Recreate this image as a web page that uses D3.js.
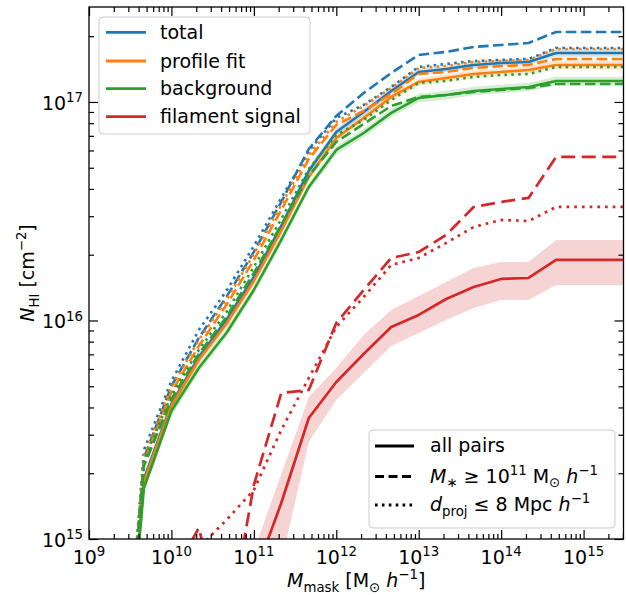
<!DOCTYPE html>
<html><head><meta charset="utf-8">
<script src="https://cdn.jsdelivr.net/npm/d3@7"></script>
<style>
body{margin:0;background:#fff;}
svg{display:block;font-family:"DejaVu Sans",sans-serif;}
</style></head><body>
<svg id="chart" width="626" height="595"></svg>
<script>
// ---------------- data ----------------
const masses = [2.15e9, 4.64e9, 1e10, 2.15e10, 4.64e10, 1e11, 2.15e11, 4.64e11, 1e12, 2.15e12, 4.64e12, 1e13, 2.15e13, 4.64e13, 1e14, 2.15e14, 4.64e14, 1e15, 2.15e15, 4.64e15];

const totalAll    = [6.39e13, 1.882e15, 4.148e15, 6.808e15, 1.005e16, 1.582e16, 2.707e16, 4.834e16, 7.29e16, 9.00e16, 1.123e17, 1.372e17, 1.416e17, 1.477e17, 1.508e17, 1.524e17, 1.676e17, 1.676e17, 1.676e17, 1.676e17];
const totalMstar  = [6.39e13, 2.348e15, 5.014e15, 8.317e15, 1.281e16, 2.058e16, 3.486e16, 6.094e16, 8.63e16, 1.099e17, 1.357e17, 1.641e17, 1.694e17, 1.785e17, 1.824e17, 1.862e17, 2.091e17, 2.091e17, 2.091e17, 2.091e17];
const totalDproj  = [6.39e13, 2.555e15, 5.285e15, 9.05e15, 1.365e16, 2.193e16, 3.637e16, 5.967e16, 8.45e16, 9.69e16, 1.171e17, 1.446e17, 1.492e17, 1.540e17, 1.557e17, 1.573e17, 1.767e17, 1.767e17, 1.767e17, 1.767e17];
const totalErr    = [0.05, 0.05, 0.045, 0.04, 0.04, 0.04, 0.04, 0.04, 0.04, 0.04, 0.035, 0.035, 0.035, 0.035, 0.035, 0.035, 0.04, 0.04, 0.04, 0.04];

const profileAll   = [6.39e13, 1.824e15, 4.061e15, 6.596e15, 9.638e15, 1.516e16, 2.568e16, 4.538e16, 6.844e16, 8.45e16, 1.054e17, 1.235e17, 1.288e17, 1.343e17, 1.372e17, 1.401e17, 1.477e17, 1.477e17, 1.477e17, 1.477e17];
const profileMstar = [6.39e13, 2.251e15, 4.708e15, 7.643e15, 1.177e16, 1.892e16, 3.204e16, 5.484e16, 7.85e16, 9.10e16, 1.088e17, 1.343e17, 1.372e17, 1.431e17, 1.461e17, 1.477e17, 1.573e17, 1.573e17, 1.573e17, 1.573e17];
const profileDproj = [6.39e13, 2.399e15, 4.962e15, 8.145e15, 1.241e16, 2.016e16, 3.378e16, 5.722e16, 8.10e16, 9.59e16, 1.159e17, 1.431e17, 1.461e17, 1.524e17, 1.541e17, 1.557e17, 1.748e17, 1.748e17, 1.748e17, 1.748e17];
const profileErr   = [0.05, 0.05, 0.045, 0.04, 0.04, 0.04, 0.04, 0.04, 0.04, 0.04, 0.04, 0.04, 0.04, 0.04, 0.04, 0.04, 0.045, 0.045, 0.045, 0.045];

const bgAll   = [6.39e13, 1.712e15, 3.853e15, 6.06e15, 8.77e15, 1.379e16, 2.336e16, 4.083e16, 6.03e16, 7.21e16, 8.91e16, 1.043e17, 1.076e17, 1.123e17, 1.147e17, 1.171e17, 1.248e17, 1.248e17, 1.248e17, 1.248e17];
const bgMstar = [6.39e13, 2.159e15, 4.372e15, 7.025e15, 1.038e16, 1.650e16, 2.736e16, 4.585e16, 6.561e16, 7.93e16, 9.59e16, 1.054e17, 1.076e17, 1.111e17, 1.135e17, 1.159e17, 1.209e17, 1.209e17, 1.209e17, 1.209e17];
const bgDproj = [6.39e13, 2.299e15, 4.560e15, 7.328e15, 1.094e16, 1.758e16, 2.914e16, 4.936e16, 7.063e16, 8.27e16, 1.021e17, 1.222e17, 1.248e17, 1.302e17, 1.329e17, 1.343e17, 1.446e17, 1.446e17, 1.446e17, 1.446e17];
const bgErr   = [0.05, 0.05, 0.05, 0.045, 0.045, 0.045, 0.045, 0.045, 0.045, 0.045, 0.045, 0.045, 0.045, 0.045, 0.045, 0.045, 0.045, 0.045, 0.045, 0.045];

const filAll   = [null, null, null, null, null, 6.63e14, 1.461e15, 3.579e15, 5.23e15, 7.025e15, 9.34e15, 1.060e16, 1.254e16, 1.424e16, 1.549e16, 1.565e16, 1.892e16, 1.892e16, 1.892e16, 1.892e16];
const filLo    = [null, null, null, null, null, 3.45e14, 7.77e14, 2.779e15, 4.327e15, 5.751e15, 7.643e15, 8.77e15, 1.005e16, 1.141e16, 1.241e16, 1.241e16, 1.454e16, 1.454e16, 1.454e16, 1.454e16];
const filHi    = [null, null, null, null, null, 8.81e14, 1.984e15, 4.466e15, 6.06e15, 8.58e15, 1.117e16, 1.295e16, 1.500e16, 1.739e16, 1.852e16, 1.852e16, 2.336e16, 2.336e16, 2.336e16, 2.336e16];
const filMstar = [null, null, 6.70e14, 1.123e15, 3.45e14, 1.767e15, 4.658e15, 4.807e15, 9.74e15, 1.379e16, 1.932e16, 2.058e16, 2.462e16, 3.307e16, 3.486e16, 3.637e16, 5.602e16, 5.602e16, 5.602e16, 5.602e16];
const filDproj = [null, null, 5.26e14, 9.10e14, 1.222e15, 1.676e15, 3.154e15, 5.456e15, 9.34e15, 1.281e16, 1.795e16, 1.932e16, 2.263e16, 2.679e16, 2.884e16, 2.854e16, 3.307e16, 3.307e16, 3.307e16, 3.307e16];

const xTickExps = [9, 10, 11, 12, 13, 14, 15];
const yTickExps = [15, 16, 17];
const componentLabels = ["total", "profile fit", "background", "filament signal"];

// ---------------- layout ----------------
const L = 89, R = 623.5, T = 7, B = 539;
const FS = 19;
const colors = ["#1f77b4", "#ff7f0e", "#2ca02c", "#d62728"];
const svg = d3.select("#chart");

const x = d3.scaleLog().domain([1e9, 3.05e15]).range([L, R]);
const y = d3.scaleLog().domain([1e15, 2.72e17]).range([B, T]);

svg.append("defs").append("clipPath").attr("id", "clip")
  .append("rect").attr("x", L).attr("y", T).attr("width", R - L).attr("height", B - T);

const plot = svg.append("g").attr("clip-path", "url(#clip)");

const groups = [
  {c: colors[0], all: totalAll, mstar: totalMstar, dproj: totalDproj, err: totalErr, w: 2.6, dash: "10.5,4.5", dot: "2.6,4.3"},
  {c: colors[1], all: profileAll, mstar: profileMstar, dproj: profileDproj, err: profileErr, w: 2.6, dash: "10.5,4.5", dot: "2.6,4.3"},
  {c: colors[2], all: bgAll, mstar: bgMstar, dproj: bgDproj, err: bgErr, w: 2.6, dash: "10.5,4.5", dot: "2.6,4.3"},
  {c: colors[3], all: filAll, mstar: filMstar, dproj: filDproj, lo: filLo, hi: filHi, w: 2.7, dash: "14,6.5", dot: "2.7,5"}
];

const line = d3.line().defined(d => d[1] != null).x(d => x(d[0])).y(d => y(d[1]));
const area = d3.area().defined(d => d[1] != null).x(d => x(d[0])).y0(d => y(d[1])).y1(d => y(d[2]));

groups.forEach(g => {
  const band = masses.map((m, i) => {
    if (g.lo) return [m, g.lo[i], g.hi[i]];
    return [m, g.all[i] * (1 - g.err[i]), g.all[i] * (1 + g.err[i])];
  });
  plot.append("path").attr("d", area(band)).attr("fill", g.c).attr("fill-opacity", 0.2).attr("stroke", "none");
  const mk = (arr, dash) => {
    const p = plot.append("path").attr("d", line(masses.map((m, i) => [m, arr[i]])))
      .attr("fill", "none").attr("stroke", g.c).attr("stroke-width", g.w)
      .attr("stroke-linejoin", "round");
    if (dash) p.attr("stroke-dasharray", dash).attr("stroke-linecap", "butt");
    else p.attr("stroke-linecap", "square");
  };
  mk(g.all, null);
  mk(g.mstar, g.dash);
  mk(g.dproj, g.dot);
});

// ---------------- axes ----------------
const xMajor = xTickExps.map(e => Math.pow(10, e));
const yMajor = yTickExps.map(e => Math.pow(10, e));
const minorOf = (lo, hi) => {
  const out = [];
  for (let e = Math.floor(Math.log10(lo)); e <= Math.ceil(Math.log10(hi)); e++)
    for (let k = 2; k <= 9; k++) { const v = k * Math.pow(10, e); if (v > lo && v < hi) out.push(v); }
  return out;
};
const xMinor = minorOf(1e9, 3.05e15);
const yMinor = minorOf(1e15, 2.72e17);

function ax(gen, tr, vals, size) {
  const g = svg.append("g").attr("transform", tr)
    .call(gen.tickValues(vals).tickSize(-size).tickFormat(""));
  g.select(".domain").remove();
  g.selectAll(".tick line").attr("stroke", "#000").attr("stroke-width", 1.2);
  g.selectAll(".tick text").remove();
  return g;
}
ax(d3.axisBottom(x), `translate(0,${B})`, xMajor, 9);
ax(d3.axisBottom(x), `translate(0,${B})`, xMinor, 5);
ax(d3.axisTop(x), `translate(0,${T})`, xMajor, 9);
ax(d3.axisTop(x), `translate(0,${T})`, xMinor, 5);
ax(d3.axisLeft(y), `translate(${L},0)`, yMajor, 9);
ax(d3.axisLeft(y), `translate(${L},0)`, yMinor, 5);
ax(d3.axisRight(y), `translate(${R},0)`, yMajor, 9);
ax(d3.axisRight(y), `translate(${R},0)`, yMinor, 5);

svg.append("rect").attr("x", L).attr("y", T).attr("width", R - L).attr("height", B - T)
  .attr("fill", "none").attr("stroke", "#000").attr("stroke-width", 1.3);

function rich(t, parts, fs) {
  let shift = 0;
  parts.forEach(p => {
    const target = p.sup ? -0.42 * fs : (p.sub ? 0.24 * fs : 0);
    const ts = t.append("tspan").text(p.t).attr("dy", target - shift)
      .style("font-size", (p.sup || p.sub ? 0.7 * fs : fs) + "px");
    if (p.i) ts.style("font-style", "italic");
    shift = target;
  });
}

xTickExps.forEach(e => {
  const t = svg.append("text").attr("x", x(Math.pow(10, e))).attr("y", 564)
    .attr("text-anchor", "middle").attr("fill", "#000");
  rich(t, [{t: "10"}, {t: String(e), sup: true}], FS);
});
yTickExps.forEach(e => {
  const t = svg.append("text").attr("x", 83).attr("y", y(Math.pow(10, e)) + 8)
    .attr("text-anchor", "end").attr("fill", "#000");
  rich(t, [{t: "10"}, {t: String(e), sup: true}], FS);
});

// axis labels
{
  const t = svg.append("text").attr("x", (L + R) / 2).attr("y", 587).attr("text-anchor", "middle").attr("fill", "#000");
  rich(t, [{t: "M", i: true}, {t: "mask", sub: true}, {t: " [M"}, {t: "⊙", sub: true}, {t: " "}, {t: "h", i: true}, {t: "−1", sup: true}, {t: "]"}], FS);
}
{
  const t = svg.append("text").attr("transform", `translate(34,${(T + B) / 2}) rotate(-90)`)
    .attr("text-anchor", "middle").attr("fill", "#000");
  rich(t, [{t: "N", i: true}, {t: "HI", sub: true}, {t: " [cm"}, {t: "−2", sup: true}, {t: "]"}], FS);
}

// ---------------- legends ----------------
function legendBox(x0, y0, w, h) {
  svg.append("rect").attr("x", x0).attr("y", y0).attr("width", w).attr("height", h)
    .attr("rx", 4).attr("fill", "#fff").attr("fill-opacity", 0.8)
    .attr("stroke", "#cccccc").attr("stroke-width", 1);
}
legendBox(99, 17, 211, 117);
const rows1 = [32.3, 61, 88.7, 116.7];
componentLabels.forEach((lab, i) => {
  svg.append("line").attr("x1", 106).attr("x2", 146).attr("y1", rows1[i]).attr("y2", rows1[i])
    .attr("stroke", colors[i]).attr("stroke-width", 2.8);
  svg.append("text").attr("x", 160).attr("y", rows1[i] + 6.6).attr("fill", "#000")
    .style("font-size", FS + "px").text(lab);
});

legendBox(369, 430, 246, 98);
const rows2 = [446, 476.5, 505];
const styles2 = [null, "9,4.5", "2.6,4.3"];
const texts2 = [
  [{t: "all pairs"}],
  [{t: "M", i: true}, {t: "∗", sub: true}, {t: " ≥ 10"}, {t: "11", sup: true}, {t: " M"}, {t: "⊙", sub: true}, {t: " "}, {t: "h", i: true}, {t: "−1", sup: true}],
  [{t: "d", i: true}, {t: "proj", sub: true}, {t: " ≤ 8 Mpc "}, {t: "h", i: true}, {t: "−1", sup: true}]
];
rows2.forEach((ry, i) => {
  const ln = svg.append("line").attr("x1", 375).attr("x2", 414).attr("y1", ry).attr("y2", ry)
    .attr("stroke", "#000").attr("stroke-width", 2.8);
  if (styles2[i]) ln.attr("stroke-dasharray", styles2[i]);
  const t = svg.append("text").attr("x", 430).attr("y", ry + 6.4).attr("fill", "#000");
  rich(t, texts2[i], FS);
});
</script>
</body></html>
